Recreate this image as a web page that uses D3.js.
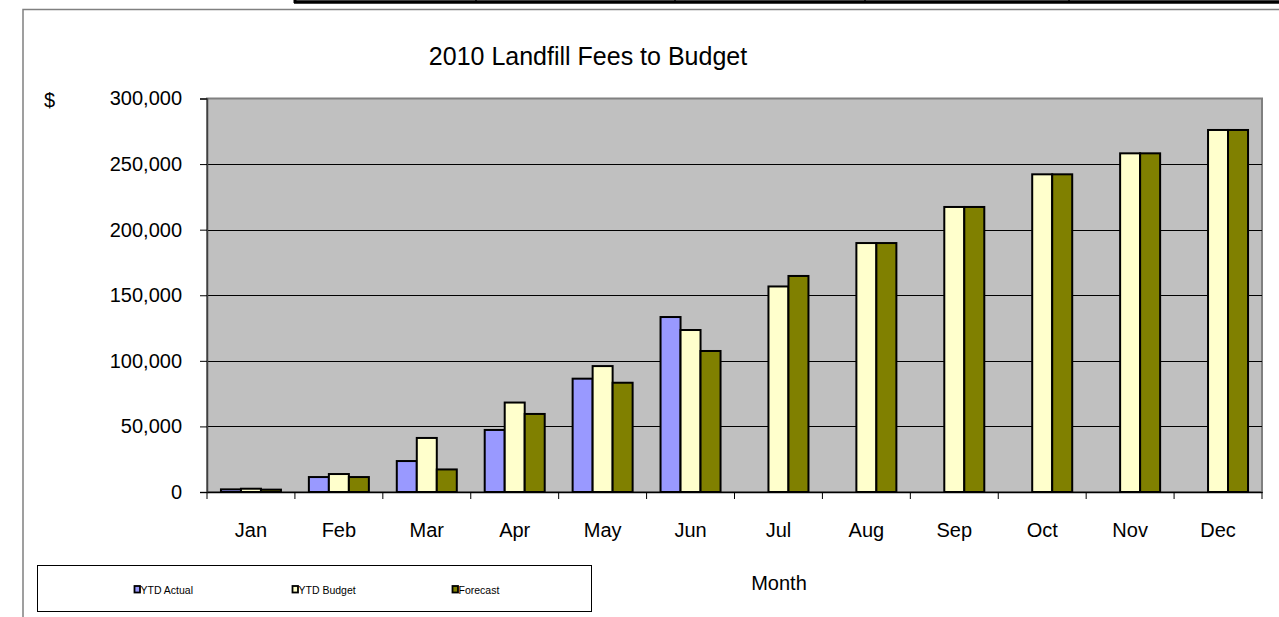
<!DOCTYPE html>
<html>
<head>
<meta charset="utf-8">
<script src="https://cdn.jsdelivr.net/npm/d3@7/dist/d3.min.js"></script>
<style>
  html, body { margin: 0; padding: 0; background: #fff; }
  svg { display: block; }
  text { font-family: "Liberation Sans", Arial, sans-serif; fill: #000; }
</style>
</head>
<body>
<svg id="chart" width="1279" height="617"></svg>
<script>
const months = ["Jan","Feb","Mar","Apr","May","Jun","Jul","Aug","Sep","Oct","Nov","Dec"];
const seriesNames = ["YTD Actual","YTD Budget","Forecast"];
const ytdActual = [2000, 11400, 23600, 47300, 86400, 133400, null, null, null, null, null, null];
const ytdBudget = [2500, 13700, 41200, 68200, 96000, 123500, 156700, 189800, 217300, 242200, 258200, 276000];
const forecast  = [1800, 11400, 17200, 59500, 83300, 107500, 164700, 189800, 217300, 242200, 258200, 276000];
const yTicks = [0, 50000, 100000, 150000, 200000, 250000, 300000];
const seriesColors = ["#9999FF", "#FFFFCC", "#808000"];

const svg = d3.select("#chart");
const plot = { left: 207, right: 1262, top: 98.5, bottom: 492 };

// top table fragment
svg.append("line").attr("x1", 294).attr("x2", 1279).attr("y1", 2).attr("y2", 2)
  .attr("stroke", "#000").attr("stroke-width", 3.5);
[295, 476, 675, 865, 1069].forEach(x => {
  svg.append("line").attr("x1", x).attr("x2", x).attr("y1", 0).attr("y2", 3)
    .attr("stroke", "#000").attr("stroke-width", x === 295 ? 3 : 1.5);
});

// outer chart frame
svg.append("rect").attr("x", 23).attr("y", 9.5).attr("width", 1300).attr("height", 700)
  .attr("fill", "#fff").attr("stroke", "#808080").attr("stroke-width", 1.5);

const x0 = d3.scaleBand().domain(months).range([plot.left, plot.right]).padding(0);
const bw = x0.bandwidth();
const groupW = 60;
const x1 = d3.scaleBand().domain(seriesNames)
  .range([(bw - groupW) / 2, (bw + groupW) / 2]).padding(0);
const y = d3.scaleLinear().domain([0, 300000]).range([plot.bottom, plot.top]);

// plot background
svg.append("rect").attr("x", plot.left).attr("y", plot.top)
  .attr("width", plot.right - plot.left).attr("height", plot.bottom - plot.top)
  .attr("fill", "#C0C0C0").attr("stroke", "#808080").attr("stroke-width", 2);

// gridlines
svg.append("g").selectAll("line").data(yTicks.filter(t => t > 0 && t < 300000)).join("line")
  .attr("x1", plot.left).attr("x2", plot.right)
  .attr("y1", d => Math.round(y(d)) + 0.5).attr("y2", d => Math.round(y(d)) + 0.5)
  .attr("stroke", "#000").attr("stroke-width", 1);

// y axis
const yAxis = d3.axisLeft(y).tickValues(yTicks).tickSize(7).tickPadding(18)
  .tickFormat(d3.format(","));
const gy = svg.append("g").attr("transform", `translate(${plot.left},0)`).call(yAxis);
gy.select(".domain").attr("stroke", "#404040").attr("stroke-width", 1.5);
gy.selectAll(".tick line").attr("stroke", "#000");
gy.selectAll(".tick text").style("font-size", "20px").attr("fill", "#000")
  .style("font-family", '"Liberation Sans", Arial, sans-serif');

// bars
const data = months.map((m, i) => ({ month: m, values: [ytdActual[i], ytdBudget[i], forecast[i]] }));
const groups = svg.append("g").selectAll("g").data(data).join("g")
  .attr("transform", d => `translate(${x0(d.month)},0)`);
groups.selectAll("rect")
  .data(d => d.values.map((v, j) => ({ name: seriesNames[j], value: v, color: seriesColors[j] }))
    .filter(e => e.value !== null))
  .join("rect")
  .attr("x", e => x1(e.name))
  .attr("y", e => y(e.value))
  .attr("width", x1.bandwidth())
  .attr("height", e => y(0) - y(e.value))
  .attr("fill", e => e.color)
  .attr("stroke", "#000").attr("stroke-width", 2);

// x axis
const xAxis = d3.axisBottom(x0).tickSize(0).tickPadding(31);
const gx = svg.append("g").attr("transform", `translate(0,${plot.bottom})`).call(xAxis);
gx.select(".domain").attr("stroke", "#000").attr("stroke-width", 1.5);
gx.selectAll(".tick text").style("font-size", "20px").attr("fill", "#000")
  .style("font-family", '"Liberation Sans", Arial, sans-serif');
// category boundary tick marks
svg.append("g").selectAll("line").data(months.concat(["end"])).join("line")
  .attr("x1", (d, i) => plot.left + i * bw).attr("x2", (d, i) => plot.left + i * bw)
  .attr("y1", plot.bottom).attr("y2", plot.bottom + 7)
  .attr("stroke", "#000").attr("stroke-width", 1);

// title and axis titles
svg.append("text").attr("x", 588).attr("y", 65).attr("text-anchor", "middle")
  .style("font-size", "25px").text("2010 Landfill Fees to Budget");
svg.append("text").attr("x", 44).attr("y", 107).style("font-size", "20px").text("$");
svg.append("text").attr("x", 779).attr("y", 590).attr("text-anchor", "middle")
  .style("font-size", "20px").text("Month");

// legend
svg.append("rect").attr("x", 37.5).attr("y", 565.5).attr("width", 554).attr("height", 46)
  .attr("fill", "#fff").attr("stroke", "#000").attr("stroke-width", 1);
const legendX = [134, 292, 452];
const lg = svg.append("g").selectAll("g").data(seriesNames).join("g")
  .attr("transform", (d, i) => `translate(${legendX[i]},585.5)`);
lg.append("rect").attr("x", 0.5).attr("y", 0.5).attr("width", 5.5).attr("height", 6.5)
  .attr("fill", (d, i) => seriesColors[i]).attr("stroke", "#000").attr("stroke-width", 1.8);
lg.append("text").attr("x", 6.5).attr("y", 8).style("font-size", "10.5px").text(d => d);
</script>
</body>
</html>
